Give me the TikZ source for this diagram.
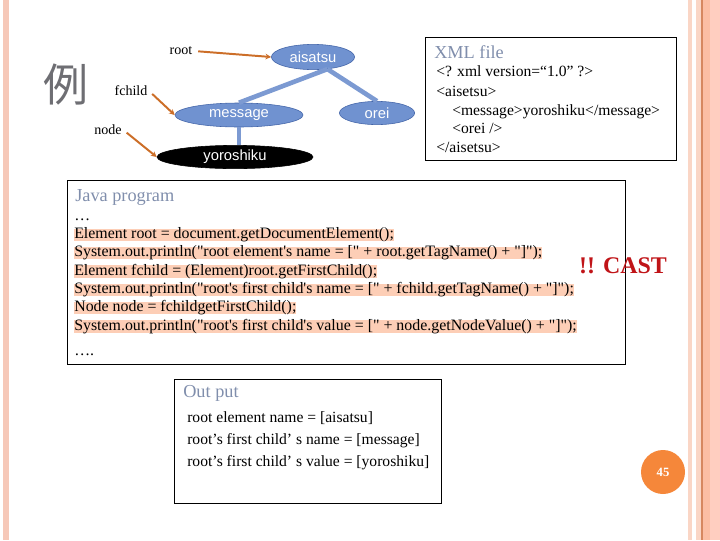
\documentclass[tikz,border=0pt]{standalone}
\usepackage{fontspec}
\setmainfont{Liberation Serif}
\setsansfont{Liberation Sans}
\newfontfamily\codefont{Liberation Serif}[Ligatures=TeXOff]
\newfontfamily\cjkfont{Noto Sans CJK JP}
\usetikzlibrary{arrows.meta,shapes.geometric}
\definecolor{stripepink}{RGB}{246,200,184}
\definecolor{stripelight}{RGB}{250,214,198}
\definecolor{stripesalmon}{RGB}{251,190,164}
\definecolor{stripedark}{RGB}{214,136,96}
\definecolor{stripeedge}{RGB}{255,206,192}
\definecolor{kanjigray}{RGB}{110,110,115}
\definecolor{ellblue}{RGB}{112,146,208}
\definecolor{ellborder}{RGB}{66,100,168}
\definecolor{linkblue}{RGB}{124,154,210}
\definecolor{pointorange}{RGB}{204,110,40}
\definecolor{titlegray}{RGB}{128,142,172}
\definecolor{hlpeach}{RGB}{253,206,182}
\definecolor{castred}{RGB}{192,20,24}
\definecolor{pageorange}{RGB}{245,135,58}
\begin{document}
\begin{tikzpicture}[x=0.025cm,y=-0.025cm,
  treenode/.style={ellipse,draw=ellborder,fill=ellblue,text=white,inner sep=0pt,font=\fontsize{10.5}{12}\sffamily},
  treelink/.style={linkblue,line width=3.3pt},
  pointer/.style={-{Stealth[length=4pt,width=4pt]},pointorange,line width=1.4pt,shorten <=3pt},
  lbl/.style={inner sep=1pt,font=\fontsize{10}{12}\selectfont},
  codebox/.style={draw,line width=0.8pt,anchor=north west,inner sep=0pt},
  boxtitle/.style={anchor=base west,inner sep=0pt,text=titlegray,font=\fontsize{13}{15}\selectfont},
  codeline/.style={anchor=base west,inner sep=0pt,text height=7pt,text depth=1.8pt,font=\codefont\fontsize{11.1}{13}\selectfont},
  javaline/.style={codeline,font=\codefont\fontsize{11.3}{13}\selectfont},
  hlline/.style={javaline,fill=hlpeach}]
  \useasboundingbox (0,0) rectangle (720,540);
  \fill[stripepink] (3,0) rectangle (9,540);
  \fill[stripelight] (688,0) rectangle (692,540);
  \fill[stripelight] (696,0) rectangle (701,540);
  \fill[stripedark] (701,0) rectangle (702.5,540);
  \fill[stripesalmon] (702.5,0) rectangle (710,540);
  \fill[stripeedge] (710,0) rectangle (720,540);

  \node[text=kanjigray,font=\cjkfont\fontsize{32}{32}\selectfont] (rei) at (66,85) {例};

  \node[treenode,minimum width=2.08cm,minimum height=0.63cm] (aisatsu) at (313,57) {aisatsu};
  \node[treenode,minimum width=3.2cm,minimum height=0.6cm] (message) at (239,115) {message};
  \node[treenode,minimum width=1.88cm,minimum height=0.58cm] (orei) at (377,113) {orei};
  \node[treenode,fill=black,draw=black,minimum width=3.9cm,minimum height=0.58cm] (yoroshiku) at (235,157) {yoroshiku};
  \draw[treelink] (aisatsu.-40) -- (message.north);
  \draw[treelink] (aisatsu.-40) -- (orei.north);
  \draw[treelink] (message.south) -- (message.south |- yoroshiku.north);

  \node[lbl] (rootlbl) at (181,51) {root};
  \node[lbl] (fchildlbl) at (131,91) {fchild};
  \node[lbl] (nodelbl) at (108,130) {node};
  \draw[pointer] (rootlbl.east) -- (aisatsu.west);
  \draw[pointer] (fchildlbl.east) -- (message.west);
  \draw[pointer] (nodelbl.east) -- (yoroshiku.west);

  \node[codebox,minimum width=6.28cm,minimum height=3.08cm] (xmlbox) at (425,37) {};
  \node[boxtitle] (xmltitle) at (434,58) {XML file};
  \node[codeline] (xml1) at (436,76.5) {<? xml version=“1.0” ?>};
  \node[codeline] (xml2) at (436,96.5) {<aisetsu>};
  \node[codeline] (xml3) at (452,115.5) {<message>yoroshiku</message>};
  \node[codeline] (xml4) at (452,133.5) {<orei />};
  \node[codeline] (xml5) at (436,152.5) {</aisetsu>};

  \node[codebox,minimum width=13.95cm,minimum height=4.6cm] (javabox) at (67,180) {};
  \node[boxtitle] (javatitle) at (75,201) {Java program};
  \node[javaline] (dots1) at (74,220) {…};
  \node[hlline] (java1) at (74,238.5) {Element root = document.getDocumentElement();};
  \node[hlline] (java2) at (74,256.8) {System.out.println("root element's name = [" + root.getTagName() + "]");};
  \node[hlline] (java3) at (74,275.1) {Element fchild = (Element)root.getFirstChild();};
  \node[hlline] (java4) at (74,293.4) {System.out.println("root's first child's name = [" + fchild.getTagName() + "]");};
  \node[hlline] (java5) at (74,311.7) {Node node = fchildgetFirstChild();};
  \node[hlline] (java6) at (74,330) {System.out.println("root's first child's value = [" + node.getNodeValue() + "]");};
  \node[javaline] (dots2) at (74,355) {….};
  \node[text=castred,font=\bfseries\fontsize{17}{20}\selectfont] (cast) at (623,266) {!! CAST};

  \node[codebox,minimum width=6.68cm,minimum height=3.1cm] (outbox) at (174,379) {};
  \node[boxtitle] (outtitle) at (183,397) {Out put};
  \node[codeline] (out1) at (187,422.5) {root element name = [aisatsu]};
  \node[codeline] (out2) at (187,444.5) {root’s first child’ s name = [message]};
  \node[codeline] (out3) at (187,466.5) {root’s first child’ s value = [yoroshiku]};

  \node[circle,fill=pageorange,minimum size=1.1cm,text=white,font=\bfseries\fontsize{9}{10}\selectfont] (pagenum) at (663,472) {45};
\end{tikzpicture}
\end{document}
